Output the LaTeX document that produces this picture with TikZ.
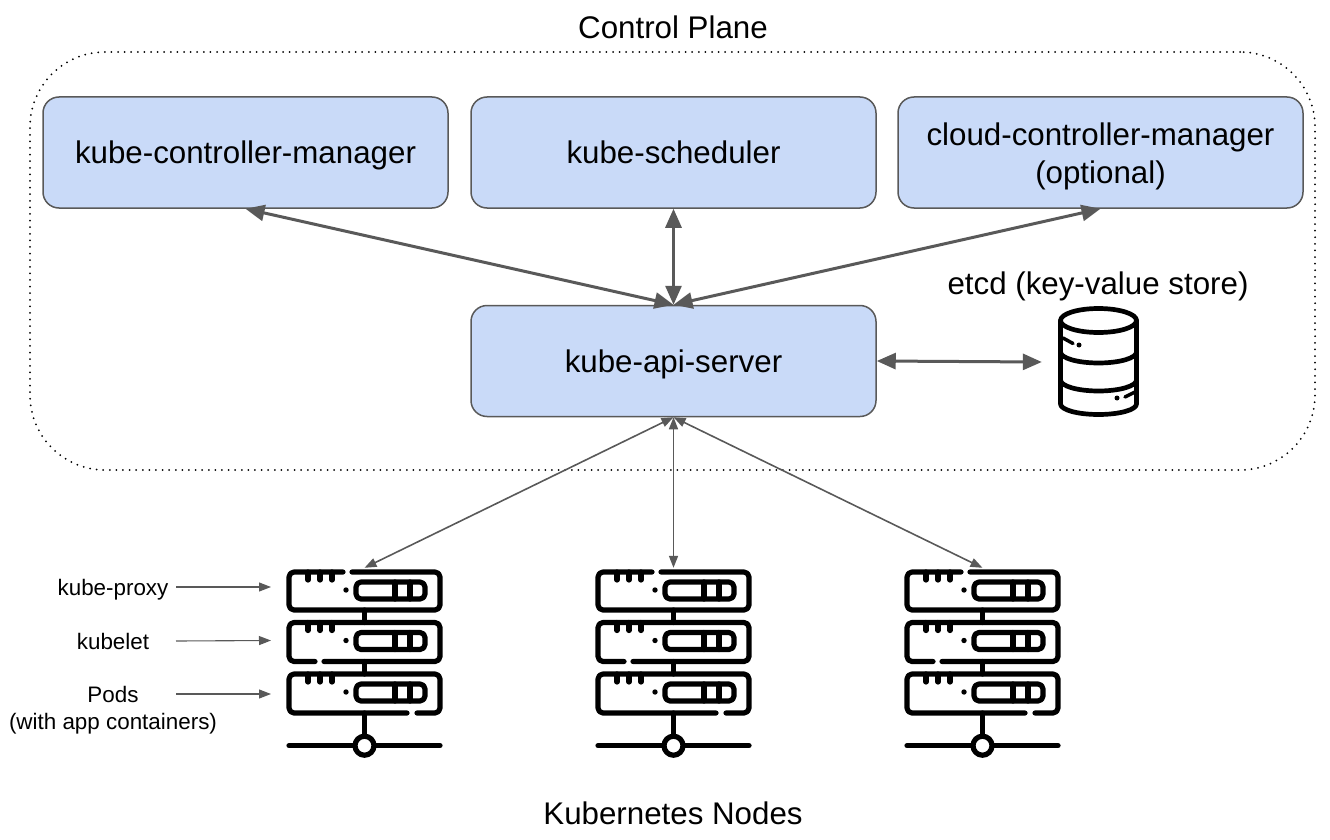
\documentclass[tikz,border=0pt]{standalone}
\usepackage{fontspec}
\setmainfont{Liberation Sans}
\usetikzlibrary{arrows.meta,positioning,calc}
\definecolor{boxblue}{HTML}{C9DAF8}
\definecolor{linegray}{HTML}{595959}
\newcommand{\boxstrut}{\rule[-8pt]{0pt}{38pt}}
\tikzset{
    compbox/.style={draw=linegray,fill=boxblue,line width=1.5pt,rounded corners=16pt,
        minimum width=405pt,minimum height=111pt,inner sep=0pt,align=center,
        font=\fontsize{31.3}{37.5}\selectfont},
    bigarrow/.style={draw=linegray,line width=3pt,{Triangle[length=19pt,width=16pt]}-{Triangle[length=19pt,width=16pt]}},
    thinarrow/.style={draw=linegray,line width=1.6pt,{Triangle[length=12pt,width=9pt]}-{Triangle[length=12pt,width=9pt]}},
    labelarrow/.style={draw=linegray,line width=1.1pt,-{Triangle[length=12pt,width=9pt]}},
    titletext/.style={inner sep=0pt,font=\fontsize{31.3}{37.5}\selectfont},
    smalltext/.style={inner sep=0pt,align=center,font=\fontsize{22.4}{27}\selectfont},
    iconline/.style={draw=black,line width=5.2pt,line cap=round,line join=round},
    servericon/.pic={
        \draw[iconline,rounded corners=5pt] (-12.5,-88) -- (75.5,-88) -- (75.5,-50) -- (-75.5,-50) -- (-75.5,-88) -- (-21.5,-88);
        \draw[iconline,rounded corners=5pt] (-40.5,1.5) -- (75.5,1.5) -- (75.5,-37.5) -- (-75.5,-37.5) -- (-75.5,1.5) -- (-49.5,1.5);
        \draw[iconline,rounded corners=5pt] (52.5,53) -- (75.5,53) -- (75.5,14) -- (-75.5,14) -- (-75.5,53) -- (42.5,53);
        \foreach \rowtop in {-88,-37.5,14} {
            \foreach \tickx in {-56.5,-44.5,-32.5}
                \draw[iconline] (\tickx,\rowtop) -- (\tickx,\rowtop+8);
            \fill (-18.5,\rowtop+18) circle (2.7pt);
            \draw[iconline,rounded corners=5pt] (-8.5,\rowtop+10) rectangle (60.5,\rowtop+27);
            \draw[iconline] (30.5,\rowtop+10) -- (30.5,\rowtop+27);
            \draw[iconline] (45.5,\rowtop+10) -- (45.5,\rowtop+27);
        }
        \draw[iconline] (0,-50) -- (0,-37.5);
        \draw[iconline] (0,1.5) -- (0,14);
        \draw[iconline] (0,53) -- (0,76);
        \draw[iconline] (-75.5,85.7) -- (75.5,85.7);
        \draw[iconline,fill=white] (0,85.7) circle (9.5pt);
    },
}

\begin{document}
\begin{tikzpicture}[x=1pt,y=-1pt]
    \useasboundingbox (0,0) rectangle (1330,840);

    \node[draw=black,line width=2pt,line cap=round,dash pattern=on 0pt off 6.6pt,
          rounded corners=75pt,minimum width=1285pt,minimum height=418pt] (controlplane) at (672.5,261) {};
    \node[titletext] (planetitle) at (673,27) {Control Plane};

    \node[compbox] (controller) at (245.5,152.5) {\boxstrut kube-controller-manager};
    \node[compbox] (scheduler) at (673.5,152.5) {\boxstrut kube-scheduler};
    \node[compbox] (cloudmgr) at (1100.5,152.5) {\rule{0pt}{30pt}cloud-controller-manager\\(optional)\rule[-5.5pt]{0pt}{5.5pt}};
    \node[compbox] (apiserver) at (673.5,361) {\boxstrut kube-api-server};

    \node[titletext] (etcdtitle) at (1098,286.5) {etcd (key-value store)};
    \node[minimum width=114pt,minimum height=110pt,inner sep=0pt] (etcdstore) at (1099,362) {};
    \begin{scope}[iconline,line width=4.7pt]
        \draw (1098.5,320.5) ellipse (38pt and 12pt);
        \draw (1060.5,320.5) -- (1060.5,404) arc[start angle=180,end angle=360,x radius=38pt,y radius=10.5pt] -- (1136.5,320.5);
        \draw (1060.5,352) arc[start angle=180,end angle=360,x radius=38pt,y radius=11pt];
        \draw (1060.5,380) arc[start angle=180,end angle=360,x radius=38pt,y radius=11pt];
        \draw[line width=3.5pt] (1063,338) -- (1073,343.5);
        \draw[line width=3.5pt] (1135,392) -- (1125,397);
    \end{scope}
    \fill (1079,345) circle (2.5pt);
    \fill (1117,398) circle (2.5pt);

    \draw[bigarrow] (controller.south) -- (apiserver.north);
    \draw[bigarrow] (scheduler.south) -- (apiserver.north);
    \draw[bigarrow] (cloudmgr.south) -- (apiserver.north);
    \draw[bigarrow] (apiserver.east) -- (etcdstore.west);

    \foreach \nodeid/\xpos in {nodea/364.5,nodeb/673.5,nodec/982.5} {
        \node[minimum width=153pt,minimum height=184pt,inner sep=0pt] (\nodeid) at (\xpos,660) {};
        \pic at (\xpos,660) {servericon};
        \draw[thinarrow] (apiserver.south) -- (\nodeid.north);
    }

    \node[smalltext] (proxylabel) at (113,589.5) {kube-proxy};
    \node[smalltext] (kubeletlabel) at (113,641) {kubelet};
    \node[smalltext] (podslabel) at (113,710) {Pods\\(with app containers)};
    \coordinate (proxyout) at (176,587);
    \coordinate (kubeletout) at (176,641);
    \coordinate (podsout) at (176,694);
    \coordinate (proxyport) at (271,587);
    \coordinate (kubeletport) at (271,640.5);
    \coordinate (podsport) at (271,694);
    \draw[labelarrow] (proxyout) -- (proxyport);
    \draw[labelarrow] (kubeletout) -- (kubeletport);
    \draw[labelarrow] (podsout) -- (podsport);

    \node[titletext] (nodestitle) at (673,813) {Kubernetes Nodes};
\end{tikzpicture}
\end{document}
